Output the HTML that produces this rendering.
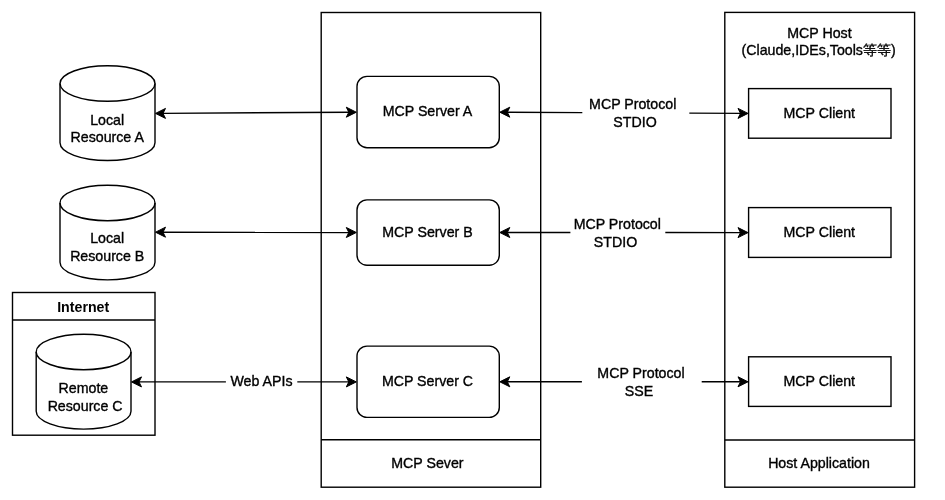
<!DOCTYPE html>
<html><head><meta charset="utf-8"><style>
html,body{margin:0;padding:0;background:#fff;width:945px;height:500px;overflow:hidden}
svg{display:block;will-change:transform}
text{font-family:"Liberation Sans",sans-serif;font-size:14.2px;fill:#000;stroke:#000;stroke-width:0.35px}
</style></head><body>
<svg width="945" height="500" viewBox="0 0 945 500">
<rect x="0" y="0" width="945" height="500" fill="#fff"/>
<rect x="321.2" y="12.5" width="219.5" height="474.7" rx="0" ry="0" fill="#fff" stroke="#000" stroke-width="1.4"/>
<line x1="321.2" y1="439.8" x2="540.7" y2="439.8" stroke="#000" stroke-width="1.4"/>
<rect x="724.8" y="12.4" width="189.8" height="474.8" rx="0" ry="0" fill="#fff" stroke="#000" stroke-width="1.4"/>
<line x1="724.8" y1="440" x2="914.6" y2="440" stroke="#000" stroke-width="1.4"/>
<rect x="12.5" y="292.5" width="142.5" height="142.7" rx="0" ry="0" fill="#fff" stroke="#000" stroke-width="1.4"/>
<line x1="12.5" y1="320" x2="155" y2="320" stroke="#000" stroke-width="1.4"/>
<line x1="162.5" y1="113.35816733067729" x2="349.3" y2="112.24183266932272" stroke="#000" stroke-width="1.4"/>
<polygon points="155.50,113.40 165.50,108.40 163.00,113.40 165.50,118.40" fill="#000" stroke="#000" stroke-width="1" stroke-linejoin="miter"/>
<polygon points="356.30,112.20 346.30,107.20 348.80,112.20 346.30,117.20" fill="#000" stroke="#000" stroke-width="1" stroke-linejoin="miter"/>
<line x1="506.8" y1="112.2" x2="582.3" y2="112.59887187751814" stroke="#000" stroke-width="1.4"/>
<line x1="689.3" y1="113.11619661563256" x2="741.0" y2="113.4" stroke="#000" stroke-width="1.4"/>
<polygon points="499.80,112.20 509.80,107.20 507.30,112.20 509.80,117.20" fill="#000" stroke="#000" stroke-width="1" stroke-linejoin="miter"/>
<polygon points="748.00,113.40 738.00,108.40 740.50,113.40 738.00,118.40" fill="#000" stroke="#000" stroke-width="1" stroke-linejoin="miter"/>
<line x1="162.5" y1="232.21045816733067" x2="349.3" y2="232.48954183266932" stroke="#000" stroke-width="1.4"/>
<polygon points="155.50,232.20 165.50,227.20 163.00,232.20 165.50,237.20" fill="#000" stroke="#000" stroke-width="1" stroke-linejoin="miter"/>
<polygon points="356.30,232.50 346.30,227.50 348.80,232.50 346.30,237.50" fill="#000" stroke="#000" stroke-width="1" stroke-linejoin="miter"/>
<line x1="506.8" y1="232.5" x2="570.4" y2="232.52844480257858" stroke="#000" stroke-width="1.4"/>
<line x1="665.3" y1="232.56668009669622" x2="741.0" y2="232.6" stroke="#000" stroke-width="1.4"/>
<polygon points="499.80,232.50 509.80,227.50 507.30,232.50 509.80,237.50" fill="#000" stroke="#000" stroke-width="1" stroke-linejoin="miter"/>
<polygon points="748.00,232.60 738.00,227.60 740.50,232.60 738.00,237.60" fill="#000" stroke="#000" stroke-width="1" stroke-linejoin="miter"/>
<line x1="138.5" y1="381.9" x2="225.9" y2="381.9" stroke="#000" stroke-width="1.4"/>
<line x1="297.3" y1="381.9" x2="349.3" y2="381.9" stroke="#000" stroke-width="1.4"/>
<polygon points="131.50,381.90 141.50,376.90 139.00,381.90 141.50,386.90" fill="#000" stroke="#000" stroke-width="1" stroke-linejoin="miter"/>
<polygon points="356.30,381.90 346.30,376.90 348.80,381.90 346.30,386.90" fill="#000" stroke="#000" stroke-width="1" stroke-linejoin="miter"/>
<line x1="506.8" y1="381.8" x2="581.9" y2="381.8" stroke="#000" stroke-width="1.4"/>
<line x1="701.7" y1="381.8" x2="741.0" y2="381.8" stroke="#000" stroke-width="1.4"/>
<polygon points="499.80,381.80 509.80,376.80 507.30,381.80 509.80,386.80" fill="#000" stroke="#000" stroke-width="1" stroke-linejoin="miter"/>
<polygon points="748.00,381.80 738.00,376.80 740.50,381.80 738.00,386.80" fill="#000" stroke="#000" stroke-width="1" stroke-linejoin="miter"/>
<rect x="357" y="76.4" width="142.3" height="71.3" rx="10" ry="10" fill="#fff" stroke="#000" stroke-width="1.4"/>
<rect x="357" y="199.9" width="142.3" height="65.4" rx="10" ry="10" fill="#fff" stroke="#000" stroke-width="1.4"/>
<rect x="357" y="346.1" width="142.3" height="71.3" rx="10" ry="10" fill="#fff" stroke="#000" stroke-width="1.4"/>
<rect x="748.6" y="88.6" width="142.4" height="49.6" rx="0" ry="0" fill="#fff" stroke="#000" stroke-width="1.4"/>
<rect x="748.6" y="207.6" width="142.4" height="49.8" rx="0" ry="0" fill="#fff" stroke="#000" stroke-width="1.4"/>
<rect x="748.6" y="356.8" width="142.4" height="49.6" rx="0" ry="0" fill="#fff" stroke="#000" stroke-width="1.4"/>
<path d="M60,83.55 A47.5,17.75 0 0 1 107.5,65.8 A47.5,17.75 0 0 1 155,83.55 L155,142.75 A47.5,17.75 0 0 1 107.5,160.5 A47.5,17.75 0 0 1 60,142.75 Z" fill="#fff" stroke="#000" stroke-width="1.4"/>
<path d="M60,83.55 A47.5,17.75 0 0 0 107.5,101.3 A47.5,17.75 0 0 0 155,83.55" fill="none" stroke="#000" stroke-width="1.4"/>
<path d="M60,202.95 A47.5,17.75 0 0 1 107.5,185.2 A47.5,17.75 0 0 1 155,202.95 L155,262.15 A47.5,17.75 0 0 1 107.5,279.9 A47.5,17.75 0 0 1 60,262.15 Z" fill="#fff" stroke="#000" stroke-width="1.4"/>
<path d="M60,202.95 A47.5,17.75 0 0 0 107.5,220.7 A47.5,17.75 0 0 0 155,202.95" fill="none" stroke="#000" stroke-width="1.4"/>
<path d="M36.2,351.95 A47.4,17.75 0 0 1 83.6,334.2 A47.4,17.75 0 0 1 131.0,351.95 L131.0,411.35 A47.4,17.75 0 0 1 83.6,429.1 A47.4,17.75 0 0 1 36.2,411.35 Z" fill="#fff" stroke="#000" stroke-width="1.4"/>
<path d="M36.2,351.95 A47.4,17.75 0 0 0 83.6,369.7 A47.4,17.75 0 0 0 131.0,351.95" fill="none" stroke="#000" stroke-width="1.4"/>
<text x="107.2" y="124.6" text-anchor="middle">Local</text>
<text x="107.2" y="142.4" text-anchor="middle">Resource A</text>
<text x="107.2" y="243.3" text-anchor="middle">Local</text>
<text x="107.2" y="260.7" text-anchor="middle">Resource B</text>
<text x="83.4" y="392.6" text-anchor="middle">Remote</text>
<text x="85.1" y="410.6" text-anchor="middle">Resource C</text>
<text x="83.2" y="311.5" text-anchor="middle" font-weight="bold" style="stroke-width:0">Internet</text>
<text x="427.5" y="116.1" text-anchor="middle">MCP Server A</text>
<text x="427.5" y="237.2" text-anchor="middle">MCP Server B</text>
<text x="427.5" y="385.6" text-anchor="middle">MCP Server C</text>
<text x="427.4" y="467.5" text-anchor="middle">MCP Sever</text>
<text x="819.3" y="117.5" text-anchor="middle">MCP Client</text>
<text x="819.3" y="237.2" text-anchor="middle">MCP Client</text>
<text x="819.3" y="385.5" text-anchor="middle">MCP Client</text>
<text x="819.4" y="37.6" text-anchor="middle">MCP Host</text>
<text x="818.6" y="55.1" text-anchor="middle">(Claude,IDEs,Tools等等)</text>
<text x="819" y="467.5" text-anchor="middle">Host Application</text>
<text x="632.7" y="108.6" text-anchor="middle">MCP Protocol</text>
<text x="635" y="126.5" text-anchor="middle">STDIO</text>
<text x="617.3" y="228.6" text-anchor="middle">MCP Protocol</text>
<text x="615.5" y="246.9" text-anchor="middle">STDIO</text>
<text x="641" y="378.4" text-anchor="middle">MCP Protocol</text>
<text x="639" y="395.9" text-anchor="middle">SSE</text>
<text x="261.5" y="386.2" text-anchor="middle">Web APIs</text>
</svg>
</body></html>
